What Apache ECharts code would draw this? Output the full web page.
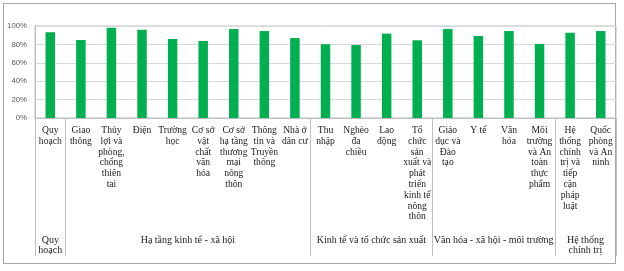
<!DOCTYPE html>
<html>
<head>
<meta charset="utf-8">
<script src="https://cdn.jsdelivr.net/npm/echarts@6/dist/echarts.min.js"></script>
<style>
html,body{margin:0;padding:0;background:#fff;}
#frame{position:absolute;left:3px;top:3px;width:613px;height:261px;border:1px solid #a6a6a6;box-sizing:border-box;}
#chart{position:absolute;left:0;top:0;width:624px;height:271px;}
</style>
</head>
<body>
<div id="frame"></div>
<div id="chart"></div>
<script>
const categories = [
  "Quy\nhoạch",
  "Giao\nthông",
  "Thủy\nlợi và\nphòng,\nchống\nthiên\ntai",
  "Điện",
  "Trường\nhọc",
  "Cơ sở\nvật\nchất\nvăn\nhóa",
  "Cơ sở\nhạ tầng\nthương\nmại\nnông\nthôn",
  "Thông\ntin và\nTruyền\nthông",
  "Nhà ở\ndân cư",
  "Thu\nnhập",
  "Nghèo\nđa\nchiều",
  "Lao\nđộng",
  "Tổ\nchức\nsản\nxuất và\nphát\ntriển\nkinh tế\nnông\nthôn",
  "Giáo\ndục và\nĐào\ntạo",
  "Y tế",
  "Văn\nhóa",
  "Môi\ntrường\nvà An\ntoàn\nthực\nphẩm",
  "Hệ\nthống\nchính\ntrị và\ntiếp\ncận\npháp\nluật",
  "Quốc\nphòng\nvà An\nninh"
];
const values = [93.2, 84.8, 98.2, 96.0, 85.9, 83.7, 96.7, 94.6, 87.0, 80.2, 79.4, 91.7, 84.5, 96.7, 89.2, 94.6, 80.5, 92.7, 94.6];
const groupNames = ["Quy\nhoạch", "Hạ tầng kinh tế - xã hội", "Kinh tế và tổ chức sản xuất", "Văn hóa - xã hội - môi trường", "Hệ thống\nchính trị"];
const groupSizes = [1, 8, 4, 4, 2];
const yTicks = [0, 20, 40, 60, 80, 100];

const bounds = [0];
groupSizes.forEach(s => bounds.push(bounds[bounds.length - 1] + s));
const centers = groupSizes.map((s, i) => bounds[i] + s / 2);

const chart = echarts.init(document.getElementById('chart'), null, {renderer: 'canvas'});
chart.setOption({
  animation: false,
  grid: {left: 35, right: 8, top: 26, bottom: 153, show: true, borderColor: '#bfbfbf', borderWidth: 1, containLabel: false},
  xAxis: [
    {
      type: 'category',
      data: categories,
      axisLine: {show: true, lineStyle: {color: '#bfbfbf', width: 1}},
      axisTick: {show: false},
      axisLabel: {interval: 0, margin: 7, fontFamily: 'Liberation Serif', fontSize: 9.6, lineHeight: 10.8, color: '#1a1a1a', align: 'center'},
      splitLine: {show: false}
    },
    {
      type: 'value',
      min: 0,
      max: bounds[bounds.length - 1],
      position: 'bottom',
      axisLine: {show: false},
      splitLine: {show: false},
      axisTick: {show: true, customValues: bounds, length: 138, lineStyle: {color: '#bfbfbf', width: 1}},
      axisLabel: {
        show: true,
        customValues: centers,
        hideOverlap: false,
        margin: 117,
        fontFamily: 'Liberation Serif', fontSize: 10, lineHeight: 10.5, color: '#1a1a1a', align: 'center',
        formatter: function (v) {
          const i = centers.findIndex(c => Math.abs(c - v) < 1e-6);
          return i >= 0 ? groupNames[i] : '';
        }
      }
    }
  ],
  yAxis: {
    type: 'value',
    min: yTicks[0],
    max: yTicks[yTicks.length - 1],
    interval: 20,
    axisLine: {show: true, lineStyle: {color: '#bfbfbf'}},
    axisTick: {show: false},
    splitLine: {show: true, lineStyle: {color: '#d9d9d9', width: 1}},
    axisLabel: {formatter: '{value}%', margin: 8, fontFamily: 'Liberation Sans', fontSize: 7.8, color: '#595959'}
  },
  series: [{
    type: 'bar',
    xAxisIndex: 0,
    data: values,
    barWidth: '31%',
    itemStyle: {color: '#00b050'}
  }]
});
</script>
</body>
</html>
